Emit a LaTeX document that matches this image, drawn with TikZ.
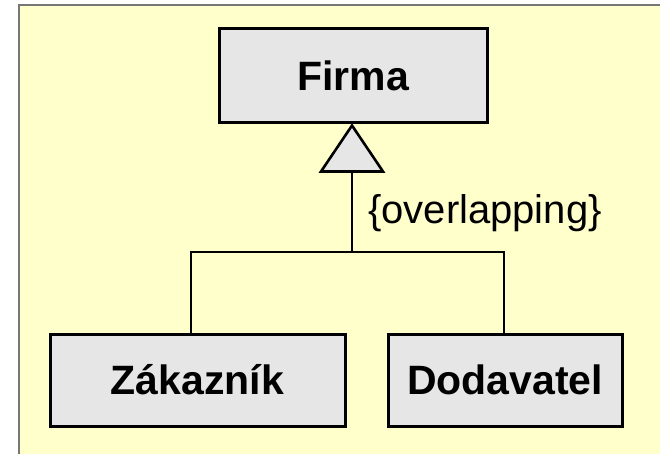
\documentclass[tikz,border=0pt]{standalone}
\usepackage{fontspec}
\setmainfont{Liberation Sans}
\usetikzlibrary{calc}
\definecolor{paper}{HTML}{FFFFCC}
\definecolor{boxfill}{HTML}{E6E6E6}
\definecolor{frame}{HTML}{777777}
\begin{document}
\begin{tikzpicture}[x=1pt,y=-1pt,
  classbox/.style={draw=black, fill=boxfill, line width=3pt, rectangle,
    inner sep=0pt, font=\fontsize{41}{48}\selectfont\bfseries},
  link/.style={draw=black, line width=2.6pt},
  lbl/.style={inner sep=0pt, font=\fontsize{40}{48}\selectfont}]
  \useasboundingbox (0,0) rectangle (660,453);
  % page background with its frame on the left and top
  \fill[paper] (19,5) rectangle (662,455);
  \draw[frame, line width=2pt] (19,455) -- (19,5) -- (662,5);

  % classes
  \node[classbox, minimum width=268pt, minimum height=94pt] (firma) at (353,75.5) {Firma};
  \node[classbox, minimum width=295pt, minimum height=92pt] (zak) at (197.5,380) {Zákazník};
  \node[classbox, minimum width=234pt, minimum height=92pt] (dod) at (505,380) {Dodavatel};

  % generalisation triangle below Firma
  \coordinate (apex) at ($(firma.south)+(-1,1.5)$);
  \coordinate (tribase) at ($(apex)+(0,46)$);
  \draw[link, fill=boxfill, line join=miter] (apex) -- ($(tribase)+(-31,0)$) -- ($(tribase)+(31,0)$) -- cycle;

  % branching connector
  \coordinate (joint) at (tribase |- 0,252);
  \coordinate (jl) at (191,252);
  \coordinate (jr) at (504,252);
  \draw[link] (tribase) -- (joint);
  \draw[link, line cap=rect] (jl) -- (jr);
  \draw[link] (jl) -- (jl |- zak.north);
  \draw[link] (jr) -- (jr |- dod.north);

  % constraint label
  \node[lbl, anchor=base west] (constraint) at (368,223) {\{overlapping\}};
\end{tikzpicture}
\end{document}
